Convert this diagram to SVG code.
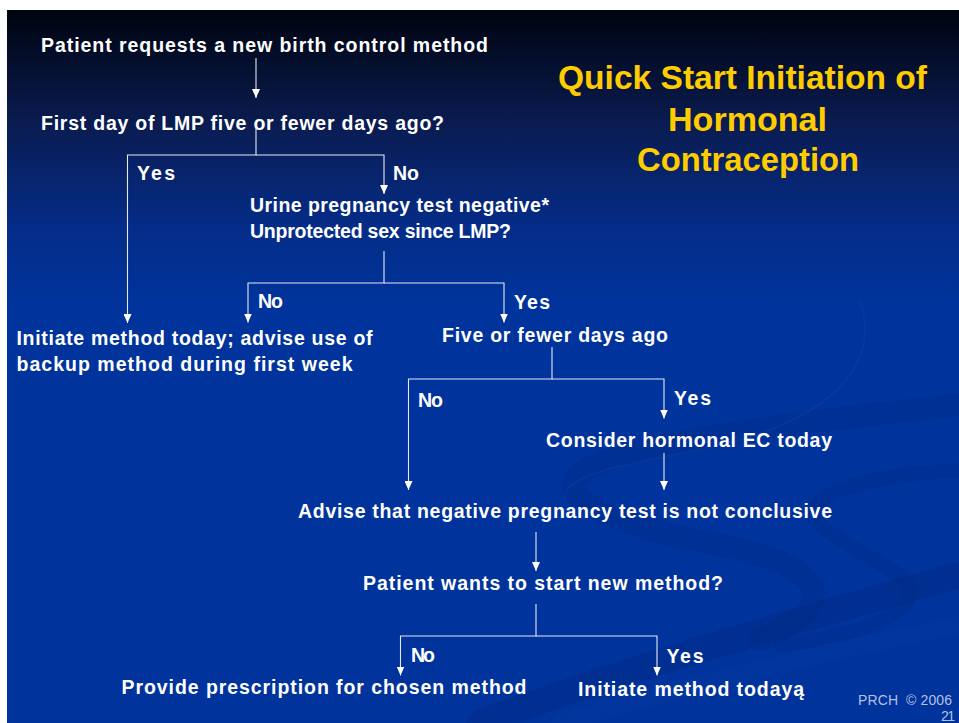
<svg xmlns="http://www.w3.org/2000/svg" width="959" height="723" viewBox="0 0 959 723">
<defs>
<linearGradient id="bg" gradientUnits="userSpaceOnUse" x1="0" y1="10" x2="0" y2="300">
<stop offset="0" stop-color="#00040f"/>
<stop offset="0.4" stop-color="#0a1c52"/>
<stop offset="0.75" stop-color="#052c88"/>
<stop offset="1" stop-color="#00339b"/>
</linearGradient>
<marker id="ah" viewBox="0 0 9 8" refX="9" refY="4" markerWidth="9" markerHeight="8" markerUnits="userSpaceOnUse" orient="auto">
<path d="M0,0 L9,4 L0,8 z" fill="#ffffff"/>
</marker>
<style>
.t{font-family:"Liberation Sans",Arial,sans-serif;font-weight:bold;font-size:19.5px;fill:#ffffff}
.ttl{font-family:"Liberation Sans",Arial,sans-serif;font-weight:bold;font-size:33px;fill:#ffcc00}
.ft{font-family:"Liberation Sans",Arial,sans-serif;font-size:14px;fill:#b4c0e6}
.c{fill:none;stroke:#e6e9f3;stroke-width:1.1}
.sw{fill:none;stroke-linecap:round}
</style>
</defs>
<rect x="0" y="0" width="959" height="723" fill="#ffffff"/>
<rect x="7" y="10" width="952" height="713" fill="url(#bg)"/>
<g id="swirls">
<path class="sw" d="M959 405 C820 420 640 440 585 470 C545 495 610 525 720 545 C820 565 850 600 760 640" stroke="#002a86" stroke-width="22" opacity="0.35"/>
<path class="sw" d="M860 300 C880 360 840 410 740 440 C640 465 560 470 565 500" stroke="#1d47b0" stroke-width="2" opacity="0.25"/>
<path class="sw" d="M959 470 C870 475 790 495 820 525 C860 560 930 575 905 605 C880 630 820 640 780 645" stroke="#002a86" stroke-width="14" opacity="0.3"/>
<path class="sw" d="M480 723 C620 670 800 620 959 575" stroke="#00287f" stroke-width="26" opacity="0.35"/>
<path class="sw" d="M560 723 C700 680 840 650 959 625" stroke="#0a3aa8" stroke-width="18" opacity="0.25"/>
</g>
<g id="title">
<text class="ttl" x="558" y="88.5" textLength="369" lengthAdjust="spacingAndGlyphs">Quick Start Initiation of</text>
<text class="ttl" x="668" y="130.5" textLength="159" lengthAdjust="spacingAndGlyphs">Hormonal</text>
<text class="ttl" x="637" y="171" textLength="222" lengthAdjust="spacingAndGlyphs">Contraception</text>
</g>
<g id="connectors">
<path class="c" d="M256 58 V98" marker-end="url(#ah)"/>
<path class="c" d="M256 121 V155 H127.5 V323" marker-end="url(#ah)"/>
<path class="c" d="M256 155 H384 V194" marker-end="url(#ah)"/>
<path class="c" d="M384 251 V283 H248 V322.5" marker-end="url(#ah)"/>
<path class="c" d="M384 283 H504 V322.5" marker-end="url(#ah)"/>
<path class="c" d="M552 347 V379 H408.5 V490" marker-end="url(#ah)"/>
<path class="c" d="M552 379 H664 V418.5" marker-end="url(#ah)"/>
<path class="c" d="M664 453 V490" marker-end="url(#ah)"/>
<path class="c" d="M536 532 V571" marker-end="url(#ah)"/>
<path class="c" d="M536 604 V636 H400.5 V675.5" marker-end="url(#ah)"/>
<path class="c" d="M536 636 H657 V675.5" marker-end="url(#ah)"/>
</g>
<g id="labels">
<text class="t" x="137" y="180" textLength="38">Yes</text>
<text class="t" x="393" y="180" textLength="26">No</text>
<text class="t" x="258" y="308" textLength="25">No</text>
<text class="t" x="514" y="309" textLength="36">Yes</text>
<text class="t" x="418" y="406.5" textLength="25">No</text>
<text class="t" x="674" y="404.5" textLength="37">Yes</text>
<text class="t" x="411" y="662" textLength="24">No</text>
<text class="t" x="666.5" y="663.3" textLength="37">Yes</text>
</g>
<g id="n-request"><text class="t" x="41" y="52" textLength="447">Patient requests a new birth control method</text></g>
<g id="n-lmp"><text class="t" x="41" y="129.5" textLength="403">First day of LMP five or fewer days ago?</text></g>
<g id="n-urine">
<text class="t" x="250" y="212" textLength="299">Urine pregnancy test negative*</text>
<text class="t" x="250" y="237.5" textLength="261">Unprotected sex since LMP?</text>
</g>
<g id="n-initiate-backup">
<text class="t" x="16.5" y="345" textLength="356">Initiate method today; advise use of</text>
<text class="t" x="16.5" y="370.5" textLength="336">backup method during first week</text>
</g>
<g id="n-five"><text class="t" x="442" y="341.7" textLength="226">Five or fewer days ago</text></g>
<g id="n-ec"><text class="t" x="546" y="446.7" textLength="286">Consider hormonal EC today</text></g>
<g id="n-advise"><text class="t" x="298" y="517.5" textLength="534">Advise that negative pregnancy test is not conclusive</text></g>
<g id="n-wants"><text class="t" x="363" y="589.5" textLength="360">Patient wants to start new method?</text></g>
<g id="n-prescription"><text class="t" x="121.5" y="694.3" textLength="405">Provide prescription for chosen method</text></g>
<g id="n-initiate-today"><text class="t" x="578" y="695.5" textLength="226">Initiate method todayą</text></g>
<g id="footer">
<text class="ft" x="858" y="705" textLength="94" xml:space="preserve">PRCH  © 2006</text>
<text class="ft" x="941" y="721" textLength="14">21</text>
</g>
</svg>
